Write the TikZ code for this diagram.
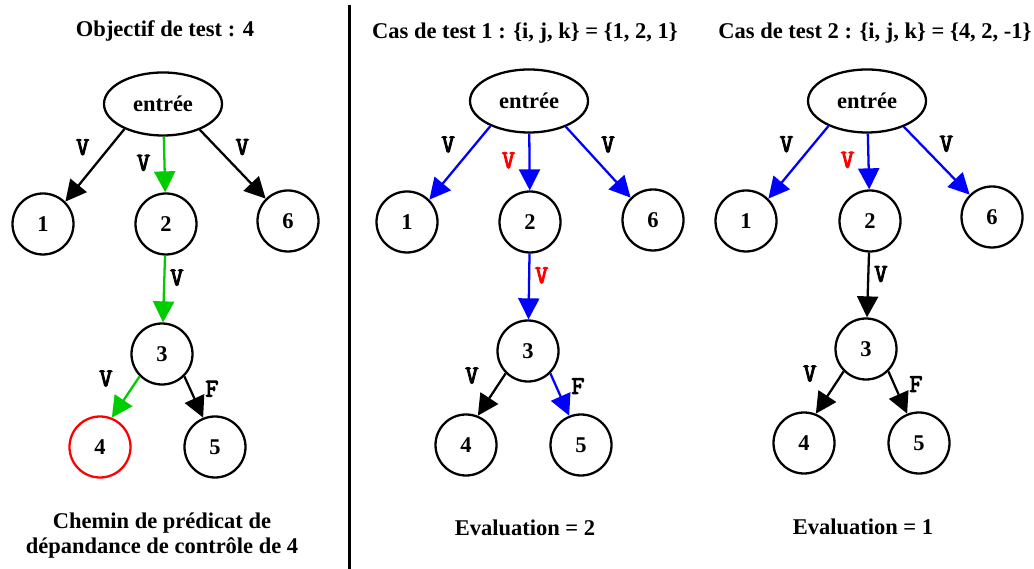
\documentclass[tikz,border=0pt]{standalone}
\usepackage{fontspec}
\setmainfont{Liberation Serif}
\newfontfamily\arcfam{Latin Modern Mono}[FakeBold=4]
\usepackage{tikz}
\usetikzlibrary{arrows.meta, positioning, shapes.geometric}
\definecolor{vertG}{HTML}{00CD00}
\definecolor{bleuT}{HTML}{0000FF}
\definecolor{rougeT}{HTML}{FF0000}
\newcommand{\grfont}{\fontsize{12.8}{14.2}\selectfont\bfseries}
\newcommand{\arcfont}{\fontsize{14.5}{16}\selectfont\arcfam}

\begin{document}
\begin{tikzpicture}[
  etat/.style={circle, draw, line width=1.3pt, minimum size=1.22cm, inner sep=0pt, font=\grfont},
  entree/.style={ellipse, draw, line width=1.3pt, minimum width=2.36cm, minimum height=1.26cm,
                 inner sep=0pt, font=\grfont},
  titre/.style={font=\grfont, align=center},
  arr/.style={-{Triangle[length=0.42cm, width=0.42cm]}, line width=1.3pt},
  lbl/.style={font=\arcfont, inner sep=0pt}
]
  \useasboundingbox (0,0) rectangle (20.68,11.38);

  % objectif de test
  \node[titre] (tA) at (3.30,10.76) {Objectif de test : 4};
  \node[entree] (eA) at (3.26,9.30) {entrée};
  \node[etat] (A1) at (0.86,6.90) {1};
  \node[etat] (A2) at (3.32,6.90) {2};
  \node[etat] (A6) at (5.76,6.96) {6};
  \node[etat] (A3) at (3.24,4.30) {3};
  \node[etat, draw=rougeT] (A4) at (2.00,2.44) {4};
  \node[etat] (A5) at (4.30,2.44) {5};
  \node[titre] (capA) at (3.24,0.67) {Chemin de prédicat de\\dépandance de contrôle de 4};

  \draw[arr] (eA.213) -- node[lbl, pos=0.25, xshift=-0.54cm] {V} (A1.45);
  \draw[arr, vertG] (eA) -- node[lbl, black, pos=0.47, xshift=-0.42cm] {V} (A2);
  \draw[arr] (eA.325) -- node[lbl, pos=0.25, xshift=0.52cm] {V} (A6.135);
  \draw[arr, vertG] (A2) -- node[lbl, black, pos=0.33, xshift=0.25cm] {V} (A3);
  \draw[arr, vertG] (A3.225) -- node[lbl, black, pos=0.1, xshift=-0.62cm, yshift=0.04cm] {V} (A4.68);
  \draw[arr] (A3.315) -- node[lbl, pos=0.3, xshift=0.44cm] {F} (A5.112);

  \draw[line width=1.7pt] (6.99,11.28) -- (6.99,0);

  % cas de test 1
  \node[titre] (tB) at (10.50,10.72) {Cas de test 1 : \{i, j, k\} = \{1, 2, 1\}};
  \node[entree] (eB) at (10.58,9.36) {entrée};
  \node[etat] (B1) at (8.14,6.94) {1};
  \node[etat] (B2) at (10.60,6.94) {2};
  \node[etat] (B6) at (13.06,6.98) {6};
  \node[etat] (B3) at (10.56,4.36) {3};
  \node[etat] (B4) at (9.32,2.48) {4};
  \node[etat] (B5) at (11.62,2.48) {5};
  \node[titre] (evB) at (10.50,0.82) {Evaluation = 2};

  \draw[arr, bleuT] (eB.213) -- node[lbl, black, pos=0.25, xshift=-0.54cm] {V} (B1.45);
  \draw[arr, bleuT] (eB) -- node[lbl, rougeT, pos=0.47, xshift=-0.42cm] {V} (B2);
  \draw[arr, bleuT] (eB.325) -- node[lbl, black, pos=0.25, xshift=0.52cm] {V} (B6.135);
  \draw[arr, bleuT] (B2) -- node[lbl, rougeT, pos=0.33, xshift=0.25cm] {V} (B3);
  \draw[arr] (B3.225) -- node[lbl, pos=0.1, xshift=-0.62cm, yshift=0.04cm] {V} (B4.68);
  \draw[arr, bleuT] (B3.315) -- node[lbl, black, pos=0.3, xshift=0.44cm] {F} (B5.112);

  % cas de test 2
  \node[titre] (tC) at (17.50,10.72) {Cas de test 2 : \{i, j, k\} = \{4, 2, -1\}};
  \node[entree] (eC) at (17.34,9.36) {entrée};
  \node[etat] (C1) at (14.92,6.96) {1};
  \node[etat] (C2) at (17.40,6.96) {2};
  \node[etat] (C6) at (19.84,7.04) {6};
  \node[etat] (C3) at (17.32,4.40) {3};
  \node[etat] (C4) at (16.08,2.52) {4};
  \node[etat] (C5) at (18.38,2.52) {5};
  \node[titre] (evC) at (17.26,0.84) {Evaluation = 1};

  \draw[arr, bleuT] (eC.213) -- node[lbl, black, pos=0.25, xshift=-0.54cm] {V} (C1.45);
  \draw[arr, bleuT] (eC) -- node[lbl, rougeT, pos=0.47, xshift=-0.42cm] {V} (C2);
  \draw[arr, bleuT] (eC.325) -- node[lbl, black, pos=0.25, xshift=0.52cm] {V} (C6.135);
  \draw[arr] (C2) -- node[lbl, pos=0.33, xshift=0.25cm] {V} (C3);
  \draw[arr] (C3.225) -- node[lbl, pos=0.1, xshift=-0.62cm, yshift=0.04cm] {V} (C4.68);
  \draw[arr] (C3.315) -- node[lbl, pos=0.3, xshift=0.44cm] {F} (C5.112);
\end{tikzpicture}
\end{document}
